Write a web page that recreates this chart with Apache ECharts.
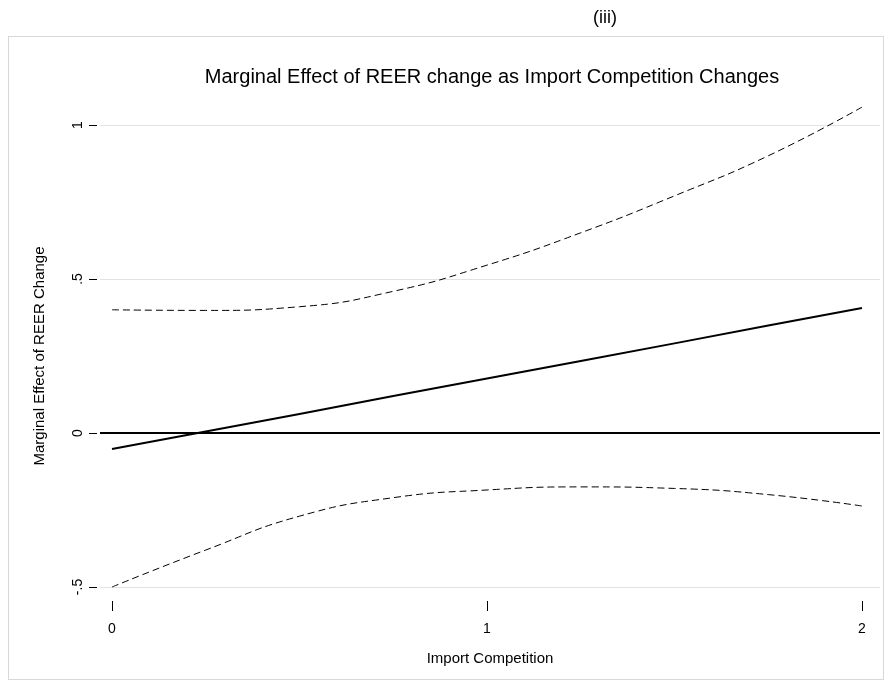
<!DOCTYPE html>
<html>
<head>
<meta charset="utf-8">
<script src="https://cdn.jsdelivr.net/npm/echarts@6/dist/echarts.min.js"></script>
<style>
    body { margin: 0; background: #fff; }
    #chart { width: 890px; height: 688px; }
    #frame { position: absolute; left: 8px; top: 36px; width: 874px; height: 642px; border: 1px solid #d8d8d8; pointer-events: none; }
</style>
</head>
<body>
<div id="chart"></div>
<div id="frame"></div>
<script>
// 数据
var xs = [0, 0.25, 0.5, 0.75, 1, 1.25, 1.5, 1.75, 2];
var effect = [-0.052, 0.005, 0.062, 0.12, 0.177, 0.234, 0.291, 0.349, 0.406];
var upper = [0.40, 0.398, 0.41, 0.46, 0.545, 0.65, 0.77, 0.90, 1.058];
var lower = [-0.50, -0.38, -0.27, -0.21, -0.185, -0.175, -0.18, -0.20, -0.237];
var xTicks = [0, 1, 2];

function pairs(v) { return xs.map(function (x, i) { return [x, v[i]]; }); }
function fmtY(v) {
    if (v === 0) return '0';
    var s = String(v);
    return s.replace(/^0\./, '.').replace(/^-0\./, '-.');
}

var chart = echarts.init(document.getElementById('chart'));
chart.setOption({
    animation: false,
    textStyle: { fontFamily: 'Liberation Sans, Arial, sans-serif' },
    title: [
        { text: '(iii)', left: 600, top: 4, textAlign: 'center', textStyle: { fontSize: 18, fontWeight: 'normal', color: '#000' } },
        { text: 'Marginal Effect of REER change as Import Competition Changes', left: 487, top: 62, textAlign: 'center', textStyle: { fontSize: 20, fontWeight: 'normal', color: '#000' } }
    ],
    grid: { left: 100, right: 10, top: 125, bottom: 101 },
    xAxis: {
        type: 'value', min: -0.032, max: 2.048,
        name: 'Import Competition', nameLocation: 'middle', nameGap: 50,
        nameTextStyle: { fontSize: 15, color: '#000' },
        offset: 14,
        axisLine: { show: false, onZero: false },
        axisTick: { show: true, customValues: xTicks, length: 10, lineStyle: { color: '#000' } },
        axisLabel: { customValues: xTicks, color: '#000', fontSize: 14, margin: 21, formatter: function (v) { return String(v); } },
        splitLine: { show: false }
    },
    yAxis: {
        type: 'value', min: -0.5, max: 1, interval: 0.5,
        name: 'Marginal Effect of REER Change', nameLocation: 'middle', nameGap: 50,
        nameTextStyle: { fontSize: 15, color: '#000' },
        offset: 3,
        axisLine: { show: false, onZero: false },
        axisTick: { show: true, length: 8, lineStyle: { color: '#000' } },
        axisLabel: { rotate: 90, color: '#000', fontSize: 14, margin: 12, formatter: fmtY },
        splitLine: { show: true, lineStyle: { color: '#e2e2e2', width: 1 } }
    },
    series: [
        { type: 'line', data: pairs(upper), smooth: true, symbol: 'none', clip: false, lineStyle: { color: '#000', width: 1, type: [7, 4] } },
        { type: 'line', data: pairs(lower), smooth: true, symbol: 'none', clip: false, lineStyle: { color: '#000', width: 1, type: [7, 4] } },
        {
            type: 'line', data: pairs(effect), symbol: 'none', lineStyle: { color: '#000', width: 2 },
            markLine: { silent: true, symbol: 'none', label: { show: false }, lineStyle: { color: '#000', width: 2, type: 'solid' }, data: [{ yAxis: 0 }] }
        }
    ]
});
</script>
</body>
</html>
